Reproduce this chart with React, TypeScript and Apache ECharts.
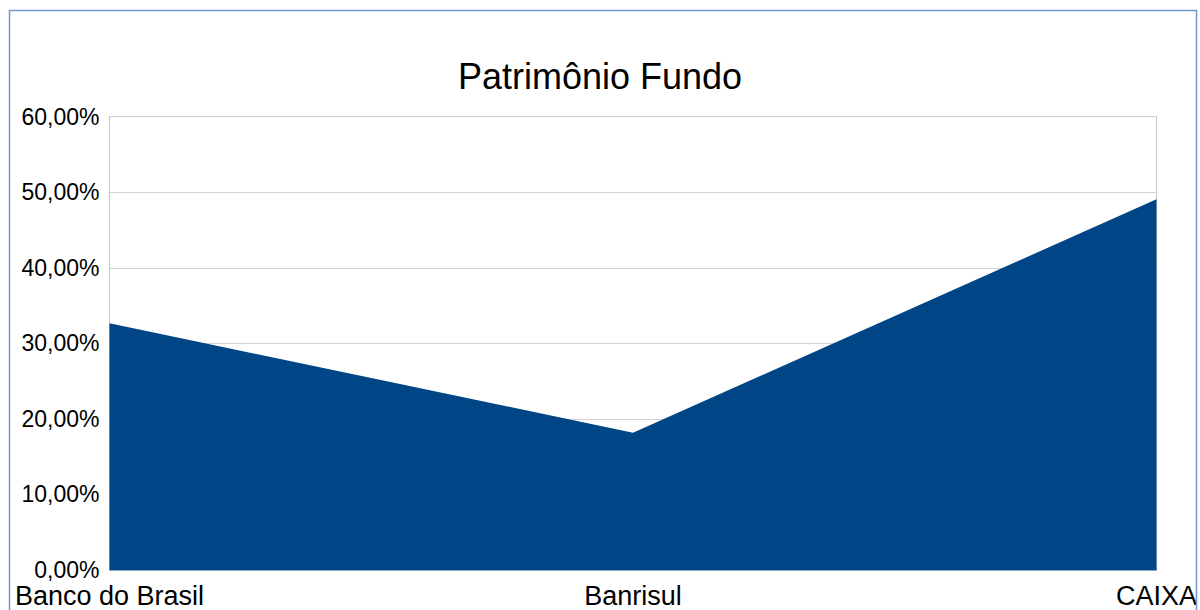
import React, { useEffect, useRef } from "react";
import * as echarts from "echarts";

const categories: string[] = ["Banco do Brasil", "Banrisul", "CAIXA"];
const patrimonio: number[] = [0.3265, 0.1817, 0.4907];
const yTicks = { min: 0, max: 0.6, interval: 0.1 };
const titleText = "Patrimônio Fundo";

export default function App() {
  const ref = useRef<HTMLDivElement>(null);
  useEffect(() => {
    document.body.style.margin = "0";
    const chart = echarts.init(ref.current!, null, { renderer: "svg" });
    chart.setOption({
      animation: false,
      backgroundColor: "#ffffff",
      textStyle: { fontFamily: "Liberation Sans" },
      title: {
        text: titleText,
        left: "center",
        top: 58,
        padding: 0,
        textStyle: { fontFamily: "Liberation Sans", fontSize: 36, fontWeight: "normal", color: "#000" },
      },
      graphic: [
        {
          type: "rect",
          shape: { x: 9.5, y: 10.5, width: 1187, height: 640 },
          style: { fill: "none", stroke: "#7197cf", lineWidth: 1.5 },
          silent: true,
          z: 100,
        },
      ],
      grid: { left: 109.5, right: 38, top: 116.7, bottom: 40, show: true, borderColor: "#c6c6c6", borderWidth: 1 },
      xAxis: {
        type: "category",
        data: categories,
        boundaryGap: false,
        axisLine: { show: true, lineStyle: { color: "#8fa5c4" } },
        axisTick: { show: false },
        splitLine: { show: false },
        axisLabel: { fontFamily: "Liberation Sans", fontSize: 27, color: "#000", margin: 12, interval: 0 },
      },
      yAxis: {
        type: "value",
        min: yTicks.min,
        max: yTicks.max,
        interval: yTicks.interval,
        axisLine: { show: true, lineStyle: { color: "#c6c6c6" } },
        axisTick: { show: false },
        splitLine: { show: true, lineStyle: { color: "#d4d4d4", width: 1 } },
        axisLabel: {
          fontFamily: "Liberation Sans",
          fontSize: 23,
          color: "#000",
          margin: 10,
          formatter: (v: number) => (v * 100).toFixed(2).replace(".", ",") + "%",
        },
      },
      series: [
        {
          type: "line",
          data: patrimonio,
          symbol: "none",
          lineStyle: { width: 0, color: "#004586" },
          itemStyle: { color: "#004586" },
          areaStyle: { color: "#004586", opacity: 1 },
        },
      ],
    });
    return () => chart.dispose();
  }, []);
  return <div ref={ref} style={{ width: 1200, height: 610, position: "absolute", left: 0, top: 0 }} />;
}
